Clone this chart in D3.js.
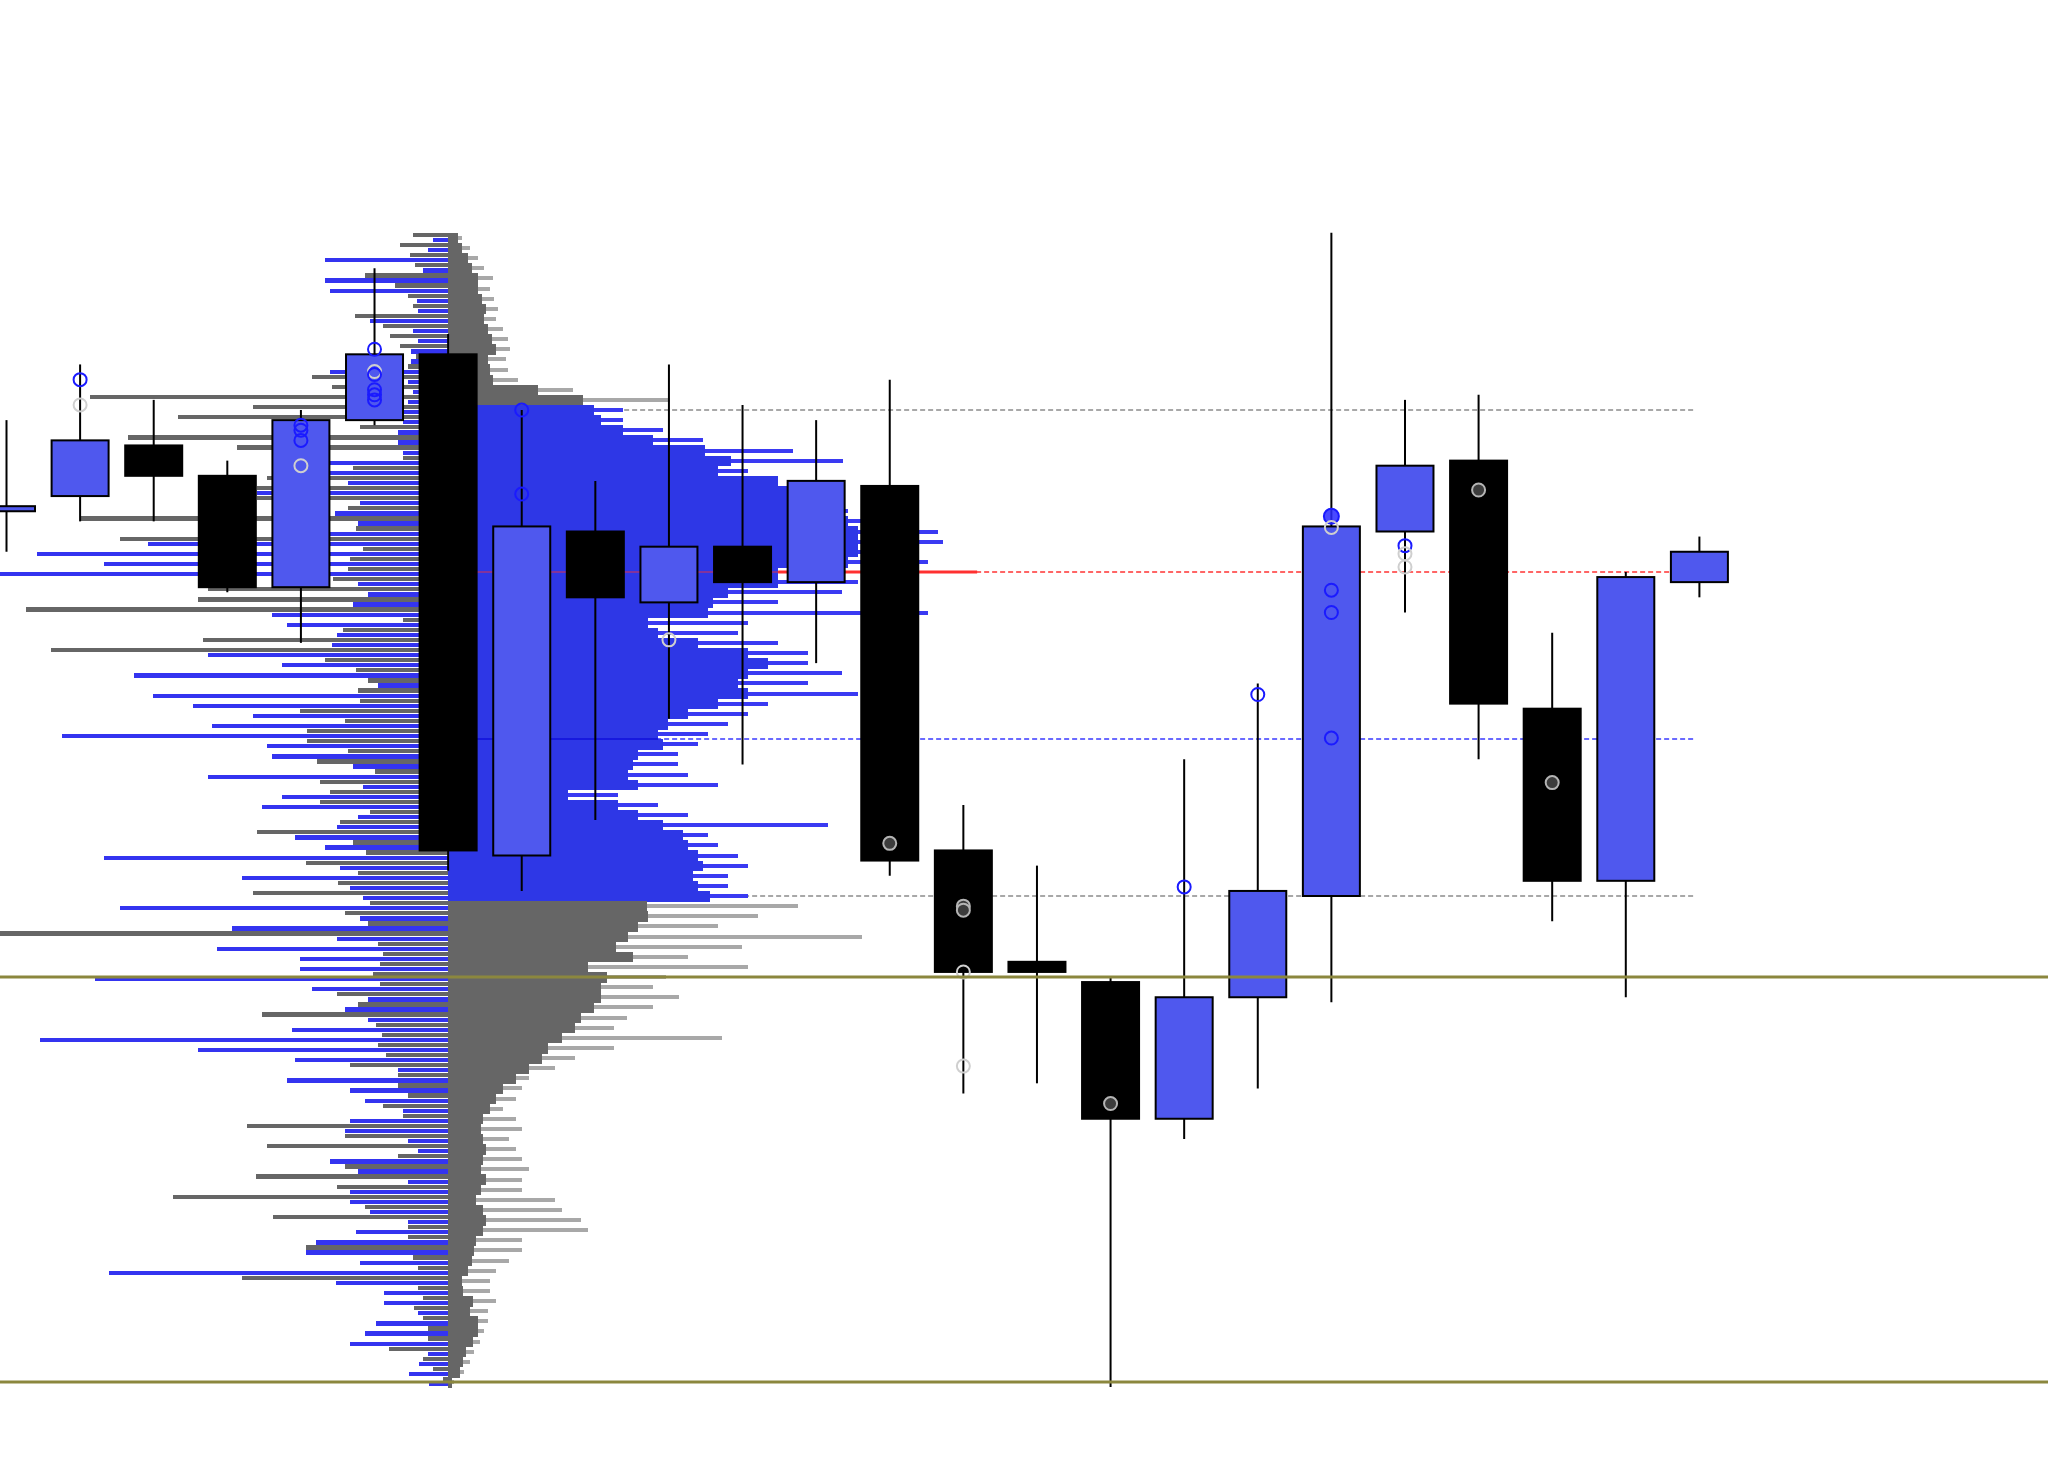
<!DOCTYPE html>
<html><head><meta charset="utf-8">
<script src="https://cdn.jsdelivr.net/npm/d3@7"></script>
<style>html,body{margin:0;padding:0;background:#fff;} svg{display:block}</style>
</head><body>
<svg id="c" width="2048" height="1472"></svg>
<script>
// ---- Candles (index 0..23) ----
const barIndex = [0,1,2,3,4,5,6,7,8,9,10,11,12,13,14,15,16,17,18,19,20,21,22,23];
const opens  = [4443.0,4443.75,4446.25,4444.75,4439.25,4447.5,4450.75,4426.0,4442.0,4438.5,4441.25,4439.5,4444.25,4426.25,4420.75,4419.75,4413.0,4419.0,4424.0,4442.0,4445.5,4433.25,4424.75,4439.5];
const highs  = [4447.5,4450.25,4448.5,4445.5,4448.0,4455.0,4451.75,4448.0,4444.5,4450.25,4448.25,4447.5,4449.5,4428.5,4425.5,4420.0,4430.75,4434.5,4456.75,4448.5,4448.75,4437.0,4440.0,4441.75];
const lows   = [4441.0,4442.5,4442.5,4439.0,4436.5,4447.25,4425.25,4424.25,4427.75,4432.75,4430.5,4435.5,4425.0,4414.25,4414.75,4399.75,4412.0,4414.5,4418.75,4438.0,4430.75,4422.75,4419.0,4438.75];
const closes = [4443.25,4446.5,4444.75,4439.25,4447.5,4450.75,4426.25,4442.25,4438.75,4441.25,4439.5,4444.5,4425.75,4420.25,4420.25,4413.0,4419.0,4424.25,4442.25,4445.25,4433.5,4424.75,4439.75,4441.0];

// ---- Markers on candles ----
const markerBar   = [1,1, 4,4,4,4, 5,5,5,5,5,5, 7,7, 9, 12, 13,13,13,13, 15, 16, 17, 18,18,18,18,18, 19,19,19, 20, 21];
const markerPrice = [4449.5,4448.25, 4447.25,4447.0,4446.5,4445.25, 4451.0,4449.9,4449.75,4449.0,4448.75,4448.5, 4448.0,4443.85, 4436.65, 4426.6, 4423.5,4423.3,4420.25,4415.6, 4413.75, 4424.45, 4433.95, 4442.75,4442.2,4439.1,4438.0,4431.8, 4441.3,4440.9,4440.25, 4444.05, 4429.6];
const markerKind  = ['b','l', 'b','b','b','l', 'b','l','b','b','b','b', 'b','b', 'l', 'd', 'd','d','l','l', 'd', 'b', 'b', 'bf','l','b','b','b', 'b','l','l', 'd', 'd'];

// ---- Volume profile (anchored at bar 6) ----
const profileBar = 6;
const priceLevels = [4456.5,4456,4455.5,4455,4454.5,4454,4453.5,4453,4452.5,4452,
4451.5,4451,4450.5,4450,4449.5,4449,4448.5,4448,4447.5,4447,
4446.5,4446,4445.5,4445,4444.5,4444,4443.5,4443,4442.5,4442,
4441.5,4441,4440.5,4440,4439.5,4439,4438.5,4438,4437.5,4437,
4436.5,4436,4435.5,4435,4434.5,4434,4433.5,4433,4432.5,4432,
4431.5,4431,4430.5,4430,4429.5,4429,4428.5,4428,4427.5,4427,
4426.5,4426,4425.5,4425,4424.5,4424,4423.5,4423,4422.5,4422,
4421.5,4421,4420.5,4420,4419.5,4419,4418.5,4418,4417.5,4417,
4416.5,4416,4415.5,4415,4414.5,4414,4413.5,4413,4412.5,4412,
4411.5,4411,4410.5,4410,4409.5,4409,4408.5,4408,4407.5,4407,
4406.5,4406,4405.5,4405,4404.5,4404,4403.5,4403,4402.5,4402,
4401.5,4401,4400.5,4400];
const leftGray = [35,48,38,33,83,53,40,35,93,65,
58,48,32,40,136,116,358,195,270,88,
320,211,45,95,181,191,191,100,368,92,
328,85,98,100,115,240,250,422,45,105,
245,397,123,92,80,90,88,148,103,141,
141,100,131,73,128,118,128,78,108,191,
95,82,142,90,110,195,78,103,80,450,
70,65,68,75,68,111,90,186,72,66,
70,62,98,50,50,40,65,45,201,103,
181,50,103,192,111,275,83,175,40,40,
142,35,30,206,30,25,34,25,20,20,
59,25,15,5];
const leftBlue = [15,20,123,25,123,118,31,30,78,35,
30,37,37,118,40,35,40,45,45,50,
50,45,118,118,100,191,88,113,90,118,
300,411,344,450,90,80,95,176,161,111,
116,240,166,314,70,295,255,195,236,386,
181,176,95,240,85,166,186,90,111,153,
123,344,108,206,98,85,328,88,216,111,
231,148,148,353,136,80,103,80,156,408,
250,153,50,161,98,83,45,98,103,40,
30,118,90,40,98,98,78,40,92,132,
142,88,339,112,64,64,30,72,83,98,
20,29,39,19];
const rightCore = [10,14,20,24,30,30,34,38,36,40,
44,48,40,42,45,90,135,146,153,175,
205,257,283,270,330,345,340,350,400,410,
410,410,400,330,330,280,265,260,200,210,
250,300,320,300,290,300,270,240,220,210,
215,190,185,180,190,120,170,190,215,235,
240,250,255,245,250,262,199,200,190,180,
168,185,140,159,153,153,146,133,127,114,
100,94,81,68,55,48,42,35,33,35,
38,35,33,38,33,28,35,38,35,28,
26,24,20,14,15,25,22,30,30,25,
18,15,12,4];
const rightTip = [14,22,30,36,45,42,46,50,48,55,
60,62,58,60,70,125,222,175,175,215,
255,345,395,300,330,360,360,400,420,490,
495,460,480,529,410,394,330,480,300,290,
330,360,360,394,360,410,320,300,280,260,
250,230,230,240,270,170,210,240,380,260,
270,290,300,280,280,300,350,310,270,414,
294,240,300,218,205,231,205,179,166,274,
166,127,107,81,74,68,55,68,74,61,
68,74,81,74,74,107,114,133,140,74,
74,61,48,42,42,48,40,40,36,32,
26,22,16,6];
const vaHigh = 4448, vaLow = 4424, pocPrice = 4440, vwapPrice = 4431.75;
const supportLevels = [4420, 4400];

// ---- scales ----
const W = 2048, H = 1472;
const y = d3.scaleLinear().domain([4400, 4420]).range([1382, 977]);
const x = d3.scaleLinear().domain([0, 23]).range([6.5, 1699.4]);
const vol = d3.scaleLinear().domain([0, 1000]).range([0, 1000]);
const svg = d3.select('#c');
svg.append('rect').attr('width', W).attr('height', H).attr('fill', '#fff');

const axisX = x(profileBar);
const lineEnd = x(23) - 4;
const rowH = Math.abs(y(0.5) - y(0));
const bodyW = 57;

// reference dashed lines (under profile)
const gRef = svg.append('g');
const refs = [
  {p: vaHigh, c: '#8c8c8c'}, {p: vaLow, c: '#8c8c8c'},
  {p: pocPrice, c: '#ff3333'}, {p: vwapPrice, c: '#3a3aff'}
];
gRef.selectAll('line').data(refs).join('line')
  .attr('x1', axisX).attr('x2', lineEnd)
  .attr('y1', d => y(d.p)).attr('y2', d => y(d.p))
  .attr('stroke', d => d.c).attr('stroke-width', 1.6).attr('stroke-dasharray', '5,3');

// profile rows
const rows = priceLevels.map((p, i) => ({p, i, lg: leftGray[i], lb: leftBlue[i], rc: rightCore[i], rt: rightTip[i],
  inVA: p <= vaHigh && p >= vaLow, poc: p === pocPrice}));
const gP = svg.append('g').attr('shape-rendering', 'crispEdges');
// left gray (upper half of row) and left blue (lower half)
gP.selectAll('rect.lg').data(rows).join('rect').attr('class', 'lg')
  .attr('x', d => axisX - vol(d.lg)).attr('width', d => vol(d.lg))
  .attr('y', d => y(d.p) - rowH / 2).attr('height', rowH / 2 - 0.8)
  .attr('fill', '#666666');
gP.selectAll('rect.lb').data(rows).join('rect').attr('class', 'lb')
  .attr('x', d => axisX - vol(d.lb)).attr('width', d => vol(d.lb))
  .attr('y', d => y(d.p)).attr('height', rowH / 2 - 0.8)
  .attr('fill', '#3434f0');
// right tips
gP.selectAll('rect.rt').data(rows.filter(d => !d.poc)).join('rect').attr('class', 'rt')
  .attr('x', axisX).attr('width', d => vol(d.rt))
  .attr('y', d => y(d.p) - 2).attr('height', 4)
  .attr('fill', d => d.inVA ? '#3a3af2' : '#a8a8a8');
// right core
gP.selectAll('rect.rc').data(rows).join('rect').attr('class', 'rc')
  .attr('x', axisX).attr('width', d => vol(d.rc))
  .attr('y', d => y(d.p) - rowH / 2).attr('height', rowH + 0.6)
  .attr('fill', d => d.inVA ? '#2e37e6' : '#666666');

// POC highlight
const pocRow = rows.find(d => d.poc);
svg.append('line').attr('x1', axisX).attr('x2', axisX + vol(pocRow.rc))
  .attr('y1', y(pocPrice)).attr('y2', y(pocPrice)).attr('stroke', '#d83050').attr('stroke-width', 1.2);
svg.append('line').attr('x1', axisX + vol(pocRow.rc)).attr('x2', axisX + vol(pocRow.rt))
  .attr('y1', y(pocPrice)).attr('y2', y(pocPrice)).attr('stroke', '#ff3030').attr('stroke-width', 3);
// VWAP solid inside profile
const vIdx = d3.minIndex(priceLevels, p => Math.abs(p - vwapPrice));
svg.append('line').attr('x1', axisX).attr('x2', axisX + vol(rightCore[vIdx]))
  .attr('y1', y(vwapPrice)).attr('y2', y(vwapPrice)).attr('stroke', '#1010dd').attr('stroke-width', 1.6);

// candles
const candles = barIndex.map(i => ({i, o: opens[i], h: highs[i], l: lows[i], c: closes[i]}));
const gC = svg.append('g');
gC.selectAll('line').data(candles).join('line')
  .attr('x1', d => x(d.i)).attr('x2', d => x(d.i))
  .attr('y1', d => y(d.h)).attr('y2', d => y(d.l))
  .attr('stroke', '#000').attr('stroke-width', 2);
gC.selectAll('rect').data(candles).join('rect')
  .attr('x', d => x(d.i) - bodyW / 2).attr('width', bodyW)
  .attr('y', d => y(Math.max(d.o, d.c)))
  .attr('height', d => Math.max(2, Math.abs(y(d.o) - y(d.c))))
  .attr('fill', d => d.c >= d.o ? '#4f58ee' : '#000000')
  .attr('stroke', '#000').attr('stroke-width', 2);

// markers
const markers = markerBar.map((b, k) => ({b, p: markerPrice[k], k: markerKind[k]}));
svg.append('g').selectAll('circle').data(markers).join('circle')
  .attr('cx', d => x(d.b)).attr('cy', d => y(d.p))
  .attr('r', d => d.k === 'bf' ? 7.5 : 6.5)
  .attr('fill', d => d.k === 'd' ? '#3c3c3c' : d.k === 'bf' ? '#2a2aff' : 'none')
  .attr('fill-opacity', d => d.k === 'bf' ? 0.85 : 1)
  .attr('stroke', d => d.k === 'l' ? '#cfcfcf' : d.k === 'd' ? '#b4b4b4' : '#1a1aff')
  .attr('stroke-width', 2);

// support lines on top
svg.append('g').selectAll('line').data(supportLevels).join('line')
  .attr('x1', 0).attr('x2', W)
  .attr('y1', d => y(d)).attr('y2', d => y(d))
  .attr('stroke', '#8b873e').attr('stroke-width', 3);
</script>
</body></html>
